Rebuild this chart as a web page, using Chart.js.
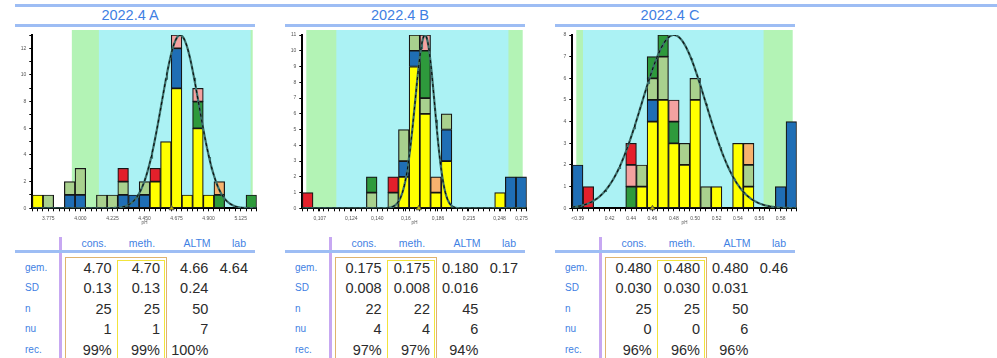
<!DOCTYPE html>
<html>
<head>
<meta charset="utf-8">
<script src="https://cdn.jsdelivr.net/npm/chart.js@4/dist/chart.umd.min.js"></script>
<style>
  html, body { margin: 0; padding: 0; background: #fff; }
  body { width: 997px; height: 358px; position: relative; overflow: hidden;
         font-family: "Liberation Sans", Arial, sans-serif; }
  .blk { position: absolute; }
  .txt { position: absolute; white-space: nowrap; }
  .frame { position: absolute; box-sizing: border-box; }
  canvas { position: absolute; }
</style>
</head>
<body>
<div class="blk" style="left:15px;top:4px;width:982px;height:3px;background:#9dbdf4"></div>
<script>
// ---------------- data ----------------
const titles = ['2022.4 A', '2022.4 B', '2022.4 C'];

// bin centres (A and C on a linear axis, B on a logarithmic axis)
const binsA = [3.700, 3.775, 3.850, 3.925, 4.000, 4.075, 4.150, 4.225, 4.300, 4.375, 4.450,
               4.525, 4.600, 4.675, 4.750, 4.825, 4.900, 4.975, 5.050, 5.125, 5.200];
const binsB = [0.1011, 0.1063, 0.1117, 0.1174, 0.1234, 0.1298, 0.1364, 0.1434, 0.1508, 0.1585, 0.1666,
               0.1752, 0.1842, 0.1936, 0.2035, 0.2140, 0.2249, 0.2365, 0.2486, 0.2613, 0.2747];
const binsC = [0.39, 0.40, 0.41, 0.42, 0.43, 0.44, 0.45, 0.46, 0.47, 0.48, 0.49,
               0.50, 0.51, 0.52, 0.53, 0.54, 0.55, 0.56, 0.57, 0.58, 0.59];

// number of results per method group in every bin
const yellowA = [1,0,0,0,0,0,0,0,0,0,0,2,5,9,1,6,1,0,0,0,0];
const blueA   = [0,0,0,1,1,0,0,0,1,1,1,0,0,3,0,0,0,0,0,0,0];
const lgreenA = [0,1,0,1,2,0,1,1,1,0,1,0,0,0,0,0,0,0,0,0,0];
const greenA  = [0,0,0,0,0,0,0,0,0,0,0,0,0,0,0,2,0,1,0,0,1];
const pinkA   = [0,0,0,0,0,0,0,0,0,0,0,0,0,1,0,1,0,0,0,0,0];
const redA    = [0,0,0,0,0,0,0,0,1,0,0,1,0,0,0,0,0,0,0,0,0];
const orangeA = [0,0,0,0,0,0,0,0,0,0,0,0,0,0,0,0,0,1,0,0,0];

const yellowB = [0,0,0,0,0,0,0,0,0,2,9,6,1,3,0,0,0,0,1,0,0];
const blueB   = [0,0,0,0,0,0,0,0,0,1,1,0,0,2,0,0,0,0,0,2,2];
const lgreenB = [0,0,0,0,0,0,1,0,1,2,1,1,0,1,0,0,0,0,0,0,0];
const greenB  = [0,0,0,0,0,0,1,0,0,0,0,3,0,0,0,0,0,0,0,0,0];
const pinkB   = [0,0,0,0,0,0,0,0,0,0,0,1,0,0,0,0,0,0,0,0,0];
const redB    = [1,0,0,0,0,0,0,0,1,0,0,0,0,0,0,0,0,0,0,0,0];
const orangeB = [0,0,0,0,0,0,0,0,0,0,0,0,1,0,0,0,0,0,0,0,0];

const yellowC = [0,0,0,0,0,0,1,4,5,3,2,5,0,1,0,3,1,0,0,0,0];
const blueC   = [2,0,0,0,0,0,0,1,0,0,0,0,0,0,0,0,0,0,0,1,4];
const lgreenC = [0,0,0,0,0,0,1,1,2,0,1,1,1,0,0,0,1,0,0,0,0];
const greenC  = [0,0,0,0,0,1,0,1,1,1,0,0,0,0,0,0,0,0,0,0,0];
const pinkC   = [0,0,0,0,0,1,0,0,0,1,0,0,0,0,0,0,0,0,0,0,0];
const redC    = [0,1,0,0,0,1,0,0,0,0,0,0,0,0,0,0,0,0,0,0,0];
const orangeC = [0,0,0,0,0,0,0,0,0,0,0,0,0,0,0,0,1,0,0,0,0];

const groupNames  = ['eigen methode', 'methode 2', 'methode 3', 'methode 4', 'methode 5', 'methode 6', 'methode 7'];
const groupColors = ['#ffff00', '#1f6eb5', '#a9d18e', '#2e9a3c', '#f4a2a0', '#e3202b', '#f7b26e'];

// x tick labels
const xTickValsA = [3.775, 4.000, 4.225, 4.450, 4.675, 4.900, 5.125];
const xTickTextA = ['3.775', '4.000', '4.225', '4.450', '4.675', '4.900', '5.125'];
const xTickValsB = [0.107, 0.124, 0.140, 0.160, 0.186, 0.215, 0.248, 0.275];
const xTickTextB = ['0,107', '0,124', '0,140', '0,16', '0,186', '0,215', '0,248', '0,275'];
const xTickValsC = [0.39, 0.42, 0.44, 0.46, 0.48, 0.50, 0.52, 0.54, 0.56, 0.58];
const xTickTextC = ['<0.39', '0.42', '0.44', '0.46', '0.48', '0.50', '0.52', '0.54', '0.56', '0.58'];

// labelled y ticks
const yLabelsA = [0, 2, 4, 6, 8, 10, 12];
const yLabelsB = [0, 1, 2, 3, 4, 5, 6, 7, 8, 9, 10, 11];
const yLabelsC = [0, 1, 2, 3, 4, 5, 6, 7, 8];

// acceptance bands (outer = green, inner = cyan)
const greenBandA = [3.94, 5.38],  cyanBandA = [4.13, 5.195];
const greenBandB = [0.09, 0.32],  cyanBandB = [0.1156, 0.2586];
const greenBandC = [0.35, 0.62],  cyanBandC = [0.395, 0.564];

// statistics table
const rowLabels = ['gem.', 'SD', 'n', 'nu', 'rec.'];
const colHeads  = ['cons.', 'meth.', 'ALTM', 'lab'];
const consA = ['4.70', '0.13', '25', '1', '99%'];
const methA = ['4.70', '0.13', '25', '1', '99%'];
const altmA = ['4.66', '0.24', '50', '7', '100%'];
const labA  = ['4.64', '', '', '', ''];
const consB = ['0.175', '0.008', '22', '4', '97%'];
const methB = ['0.175', '0.008', '22', '4', '97%'];
const altmB = ['0.180', '0.016', '45', '6', '94%'];
const labB  = ['0.17', '', '', '', ''];
const consC = ['0.480', '0.030', '25', '0', '96%'];
const methC = ['0.480', '0.030', '25', '0', '96%'];
const altmC = ['0.480', '0.031', '50', '6', '96%'];
const labC  = ['0.46', '', '', '', ''];

// ---------------- drawing ----------------
const BLUE_TEXT = '#3f7fe3';
const RULE = '#9dbdf4';
const num = s => parseFloat(String(s).replace(',', '.'));

const panels = [
  { title: titles[0], bins: binsA, log: false, groups: [yellowA, blueA, lgreenA, greenA, pinkA, redA, orangeA],
    tickVals: xTickValsA, tickText: xTickTextA, yLabels: yLabelsA, green: greenBandA, cyan: cyanBandA,
    cols: [consA, methA, altmA, labA] },
  { title: titles[1], bins: binsB, log: true, groups: [yellowB, blueB, lgreenB, greenB, pinkB, redB, orangeB],
    tickVals: xTickValsB, tickText: xTickTextB, yLabels: yLabelsB, green: greenBandB, cyan: cyanBandB,
    cols: [consB, methB, altmB, labB] },
  { title: titles[2], bins: binsC, log: false, groups: [yellowC, blueC, lgreenC, greenC, pinkC, redC, orangeC],
    tickVals: xTickValsC, tickText: xTickTextC, yLabels: yLabelsC, green: greenBandC, cyan: cyanBandC,
    cols: [consC, methC, altmC, labC] }
];

function block(x, y, w, h, color) {
  const d = document.createElement('div');
  d.className = 'blk';
  d.style.cssText = `left:${x}px;top:${y}px;width:${w}px;height:${h}px;background:${color}`;
  document.body.appendChild(d);
}
function text(str, x, yc, w, align, size, color, lh) {
  const d = document.createElement('div');
  d.className = 'txt';
  d.textContent = str;
  d.style.cssText = `left:${x}px;top:${yc - lh / 2}px;width:${w}px;text-align:${align};` +
                    `font-size:${size}px;line-height:${lh}px;color:${color}`;
  document.body.appendChild(d);
}
function frame(x, y, w, color) {
  const d = document.createElement('div');
  d.className = 'frame';
  d.style.cssText = `left:${x}px;top:${y}px;width:${w}px;height:140px;border:1.5px solid ${color}`;
  document.body.appendChild(d);
}

// shaded acceptance ranges behind the histogram
const bandPlugin = {
  id: 'bands',
  beforeDraw(chart, args, opts) {
    const { ctx, chartArea: a, scales: { x } } = chart;
    const left = a.left + 4, right = a.right - 4, top = a.top - 5;
    ctx.save();
    ctx.beginPath();
    ctx.rect(left, top, right - left, a.bottom - top);
    ctx.clip();
    const fill = (band, color) => {
      const x0 = x.getPixelForValue(band[0]), x1 = x.getPixelForValue(band[1]);
      ctx.fillStyle = color;
      ctx.fillRect(x0, top, x1 - x0, a.bottom - top);
    };
    fill(opts.green, '#b3f3b5');
    fill(opts.cyan, '#abf2f4');
    ctx.restore();
  }
};

function buildChart(p, ox) {
  const cv = document.createElement('canvas');
  cv.width = 260; cv.height = 202;
  cv.style.cssText = `left:${ox + 4}px;top:26px;width:260px;height:202px`;
  document.body.appendChild(cv);

  const b = p.bins, n = b.length;
  const mid = (u, v) => p.log ? Math.sqrt(u * v) : (u + v) / 2;
  const xMin = p.log ? b[0] * Math.sqrt(b[0] / b[1]) : b[0] - (b[1] - b[0]) / 2;
  const xMax = p.log ? b[n - 1] * Math.sqrt(b[n - 1] / b[n - 2]) : b[n - 1] + (b[n - 1] - b[n - 2]) / 2;

  const totals = b.map((_, i) => p.groups.reduce((s, g) => s + g[i], 0));
  const yMax = Math.max(...totals);

  // normal curve of the consensus mean and SD, scaled to the tallest bar
  const mean = num(p.cols[0][0]), sd = num(p.cols[0][1]);
  const curve = [];
  for (let k = 0; k <= 240; k++) {
    const t = k / 240;
    const x = p.log ? xMin * Math.pow(xMax / xMin, t) : xMin + (xMax - xMin) * t;
    curve.push({ x, y: yMax * Math.exp(-0.5 * Math.pow((x - mean) / sd, 2)) });
  }

  const near = (u, v) => Math.abs(u - v) < 1e-7;
  const minor = [xMin];
  for (let i = 0; i < n; i++) {
    minor.push(b[i]);
    minor.push(i < n - 1 ? mid(b[i], b[i + 1]) : xMax);
  }
  const xTicks = minor.filter(v => !p.tickVals.some(t => near(t, v)))
                      .concat(p.tickVals).sort((u, v) => u - v);

  const datasets = [
    { type: 'line', data: curve, borderColor: '#0e0e0e', borderWidth: 1.1, borderDash: [3, 3],
      pointRadius: 0, stack: 'curve-dash', order: 0 },
    { type: 'scatter', data: [{ x: num(p.cols[3][0]), y: 0 }], pointStyle: 'triangle', radius: 3,
      backgroundColor: '#c4b400', borderColor: '#444', borderWidth: 0.8, clip: false, stack: 'lab', order: 0 },
    { type: 'line', data: curve, borderColor: '#3c6f6b', borderWidth: 2.2,
      pointRadius: 0, stack: 'curve', order: 1 }
  ];
  p.groups.forEach((g, gi) => datasets.push({
    type: 'bar', label: groupNames[gi],
    data: b.map((x, i) => ({ x, y: g[i] ? g[i] : null })),
    backgroundColor: groupColors[gi], borderColor: '#161616', borderWidth: 1.2, borderSkipped: false,
    barThickness: 'flex', barPercentage: 1, categoryPercentage: 1, stack: 'hist', order: 2
  }));

  new Chart(cv, {
    type: 'bar',
    data: { datasets },
    plugins: [bandPlugin],
    options: {
      responsive: false, animation: false, events: [],
      layout: { padding: { left: 4, right: 7.3, top: 9, bottom: 2.7 } },
      plugins: { legend: { display: false }, tooltip: { enabled: false },
                 bands: { green: p.green, cyan: p.cyan } },
      scales: {
        x: {
          type: p.log ? 'logarithmic' : 'linear', min: xMin, max: xMax, offset: false, stacked: true,
          grid: { display: true, drawOnChartArea: false, drawTicks: true, tickLength: 3,
                  color: '#000', lineWidth: 1, offset: false },
          border: { display: true, color: '#000', width: 2 },
          ticks: { autoSkip: false, maxRotation: 0, minRotation: 0, padding: 4,
                   font: { size: 5 }, color: '#555',
                   callback: v => { const i = p.tickVals.findIndex(t => near(t, v)); return i >= 0 ? p.tickText[i] : ''; } },
          title: { display: true, text: 'pH', font: { size: 4.5 }, color: '#555', padding: 0 },
          afterBuildTicks: s => { s.ticks = xTicks.map(v => ({ value: v })); },
          afterFit: s => { s.height = 17; s.paddingLeft = 0; s.paddingRight = 0; }
        },
        y: {
          type: 'linear', min: 0, max: yMax, stacked: true,
          grid: { display: true, drawOnChartArea: false, drawTicks: true, tickLength: 3,
                  color: '#000', lineWidth: 1 },
          border: { display: true, color: '#000', width: 2 },
          ticks: { autoSkip: false, padding: 3, font: { size: 5 }, color: '#555',
                   callback: v => p.yLabels.includes(v) ? String(v) : '' },
          afterBuildTicks: s => { s.ticks = Array.from({ length: yMax + 1 }, (_, i) => ({ value: i })); },
          afterFit: s => { s.width = 24.3; s.paddingTop = 0; s.paddingBottom = 0; }
        }
      }
    }
  });
}

function buildTable(p, ox) {
  const headX = [94, 142, 197, 239];
  const rowY = [268, 288, 308.5, 329, 349.5];
  const valRight = [111.7, 160, 208.3, 248];
  frame(ox + 65, 256.7, 101.7, '#dfb36d');
  frame(ox + 116.7, 260, 48.3, '#f2e43c');
  block(ox + 58.5, 237, 3, 125, '#c7a8f2');
  block(ox + 15, 250, 240, 3, RULE);
  colHeads.forEach((h, i) => text(h, ox + headX[i] - 25, 243, 50, 'center', 10.5, BLUE_TEXT, 12));
  rowLabels.forEach((r, i) => text(r, ox + 25, rowY[i], 40, 'left', 10, BLUE_TEXT, 12));
  p.cols.forEach((col, ci) => col.forEach((v, ri) => {
    if (v) text(v, ox + valRight[ci] - 70, rowY[ri], 70, 'right', 14.5, '#2b2b2b', 18);
  }));
}

panels.forEach((p, i) => {
  const ox = 270 * i;
  text(p.title, ox + 10, 15, 240, 'center', 14.5, BLUE_TEXT, 17);
  block(ox + 15, 24, 240, 3, RULE);
  buildChart(p, ox);
  buildTable(p, ox);
});
</script>
</body>
</html>
